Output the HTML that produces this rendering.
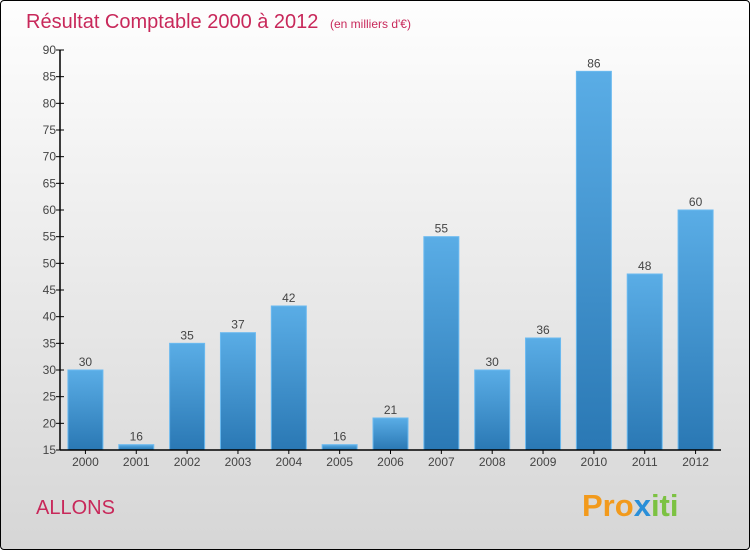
<!DOCTYPE html>
<html><head><meta charset="utf-8"><style>
body{margin:0;width:750px;height:550px;overflow:hidden;font-family:"Liberation Sans",sans-serif}
#wrap{position:absolute;left:0;top:0;width:748px;height:548px;border:1px solid #000;border-radius:4px;background:linear-gradient(#fefefe,#d6d6d6)}
svg{position:absolute;left:-1px;top:-1px}
</style></head><body>
<div id="wrap">
<svg width="750" height="550">
<defs><linearGradient id="bg" x1="0" y1="0" x2="0" y2="1"><stop offset="0" stop-color="#5aade6"/><stop offset="1" stop-color="#2a78b4"/></linearGradient></defs>
<text x="26" y="28" font-size="20" fill="#c8285a">Résultat Comptable 2000 à 2012 <tspan font-size="12" dx="6">(en milliers d'€)</tspan></text>
<text x="36" y="514" font-size="20" fill="#c8285a">ALLONS</text>
<text x="582" y="516" font-size="31" font-weight="bold" fill="#f29a1c">Pro<tspan fill="#2a8fd8">x</tspan><tspan fill="#7cc242">iti</tspan></text>
<g id="g"></g>
</svg></div>
<script>
const years=["2000","2001","2002","2003","2004","2005","2006","2007","2008","2009","2010","2011","2012"];
const values=[30,16,35,37,42,16,21,55,30,36,86,48,60];
const ticks=[15,20,25,30,35,40,45,50,55,60,65,70,75,80,85,90];
const ns="http://www.w3.org/2000/svg",g=document.getElementById('g');
const x0=60,x1=721,yMin=15,yMax=90,yB=450,yT=50;
const y=v=>yB-(v-yMin)/(yMax-yMin)*(yB-yT);
const slot=(x1-x0)/years.length;
function mk(t,a,txt){const e=document.createElementNS(ns,t);for(const k in a)e.setAttribute(k,a[k]);if(txt!=null)e.textContent=txt;g.appendChild(e);return e;}
ticks.forEach(t=>{
const l=mk('line',{x1:x0-4,x2:x0+4,y1:y(t),y2:y(t),stroke:'#000'});


const tx=mk('text',{x:x0-4,y:y(t)+4,'text-anchor':'end','font-size':12,fill:'#444'},t);


});
years.forEach((yr,i)=>{
const cx=x0+slot*(i+0.5),v=values[i];
const r=mk('rect',{x:cx-17.5,y:y(v),width:35,height:yB-y(v),fill:'url(#bg)',stroke:'#6bbaf0','stroke-width':1});


const vl=mk('text',{x:cx,y:y(v)-4,'text-anchor':'middle','font-size':12,fill:'#444'},v);


const tk=mk('line',{x1:cx,x2:cx,y1:yB,y2:yB+4,stroke:'#000'});


const xl=mk('text',{x:cx,y:yB+16,'text-anchor':'middle','font-size':12,fill:'#444'},yr);


});
const ya=mk('line',{x1:x0,x2:x0,y1:yT,y2:yB,stroke:'#000','stroke-width':1.5});


const xa=mk('line',{x1:x0,x2:x1,y1:yB,y2:yB,stroke:'#000','stroke-width':1.5});


</script>
</body></html>
